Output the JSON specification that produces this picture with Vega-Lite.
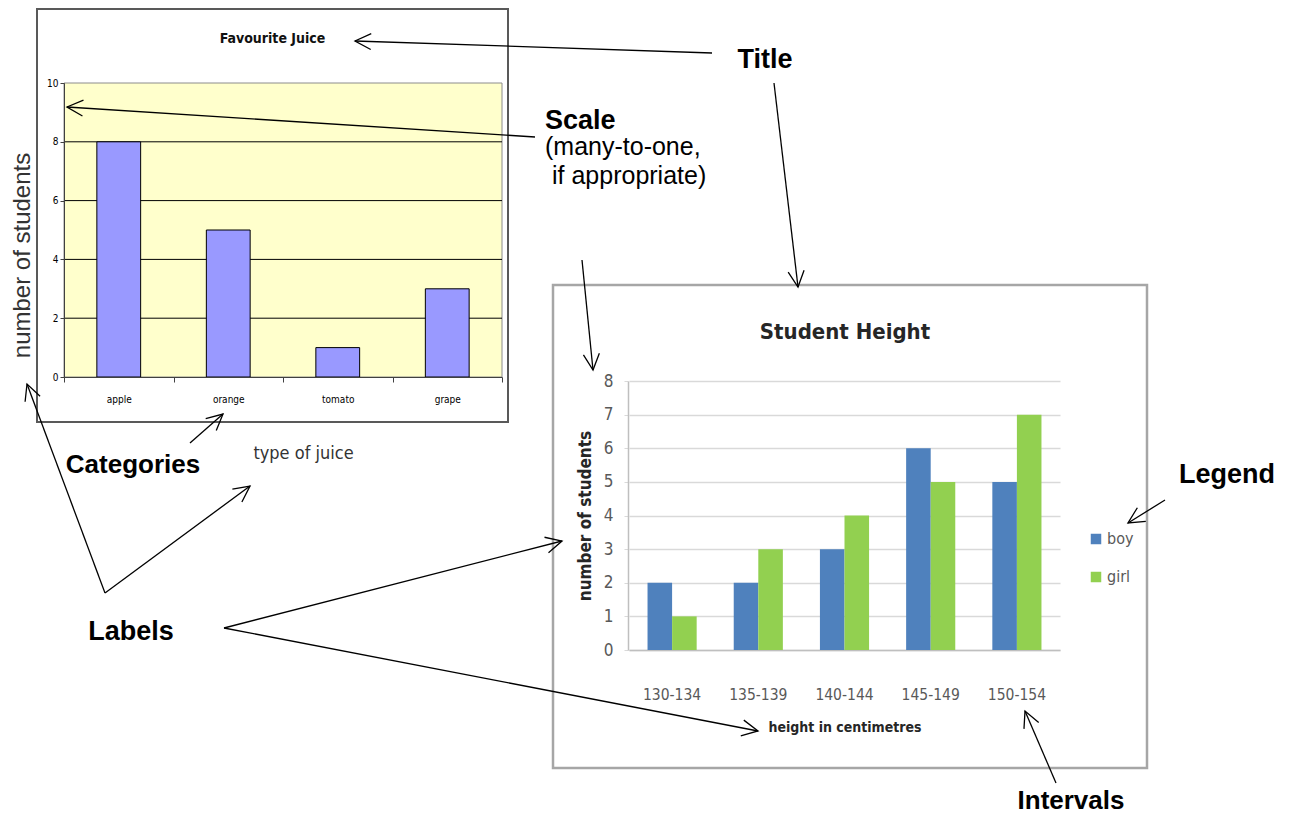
{
  "$schema": "https://vega.github.io/schema/vega-lite/v6.json",
  "width": 1289,
  "height": 817,
  "padding": 0,
  "autosize": {"type": "none"},
  "background": "white",
  "config": {"view": {"stroke": null}, "font": "Liberation Sans"},
  "datasets": {
    "juice": [
      {"juice": "apple", "students": 8},
      {"juice": "orange", "students": 5},
      {"juice": "tomato", "students": 1},
      {"juice": "grape", "students": 3}
    ],
    "leftGrid": [{"v": 2}, {"v": 4}, {"v": 6}, {"v": 8}],
    "heights": [
      {"range": "130-134", "gender": "boy", "students": 2},
      {"range": "130-134", "gender": "girl", "students": 1},
      {"range": "135-139", "gender": "boy", "students": 2},
      {"range": "135-139", "gender": "girl", "students": 3},
      {"range": "140-144", "gender": "boy", "students": 3},
      {"range": "140-144", "gender": "girl", "students": 4},
      {"range": "145-149", "gender": "boy", "students": 6},
      {"range": "145-149", "gender": "girl", "students": 5},
      {"range": "150-154", "gender": "boy", "students": 5},
      {"range": "150-154", "gender": "girl", "students": 7}
    ],
    "leftFrame": [{"x1": 37, "y1": 9, "x2": 508, "y2": 422}],
    "rightFrame": [{"x1": 553, "y1": 285, "x2": 1147, "y2": 768}],
    "arrows": [
      {"x1": 712, "y1": 53, "x2": 355, "y2": 41},
      {"x1": 774, "y1": 83, "x2": 798, "y2": 287},
      {"x1": 535, "y1": 137, "x2": 67, "y2": 107},
      {"x1": 582, "y1": 260, "x2": 593, "y2": 370},
      {"x1": 190, "y1": 443, "x2": 223, "y2": 414},
      {"x1": 105, "y1": 593, "x2": 27, "y2": 384},
      {"x1": 105, "y1": 593, "x2": 250, "y2": 486},
      {"x1": 224, "y1": 628, "x2": 562, "y2": 541},
      {"x1": 224, "y1": 628, "x2": 758, "y2": 731},
      {"x1": 1165, "y1": 500, "x2": 1128, "y2": 523},
      {"x1": 1056, "y1": 783, "x2": 1025, "y2": 711}
    ],
    "notesBig": [
      {"label": "Title", "px": 765, "py": 68},
      {"label": "Labels", "px": 131, "py": 640},
      {"label": "Legend", "px": 1227, "py": 483}
    ],
    "notesMid": [
      {"label": "Categories", "px": 133, "py": 473},
      {"label": "Intervals", "px": 1071, "py": 809}
    ],
    "notesScale": [{"label": "Scale", "px": 545, "py": 129}],
    "notesPlain": [
      {"label": "(many-to-one,", "px": 545, "py": 155},
      {"label": "if appropriate)", "px": 552, "py": 184}
    ]
  },
  "layer": [
    {
      "layer": [
        {
          "data": {"name": "leftFrame"},
          "mark": {"type": "rect", "filled": false, "stroke": "#595959", "strokeWidth": 2},
          "encoding": {
            "x": {"field": "x1", "type": "quantitative", "scale": {"domain": [0, 1289], "range": [0, 1289], "nice": false, "zero": false}, "axis": null},
            "x2": {"field": "x2"},
            "y": {"field": "y1", "type": "quantitative", "scale": {"domain": [0, 817], "range": [0, 817], "nice": false, "zero": false}, "axis": null},
            "y2": {"field": "y2"}
          }
        },
        {
          "data": {"name": "rightFrame"},
          "mark": {"type": "rect", "filled": false, "stroke": "#a6a6a6", "strokeWidth": 2.5},
          "encoding": {
            "x": {"field": "x1", "type": "quantitative", "axis": null},
            "x2": {"field": "x2"},
            "y": {"field": "y1", "type": "quantitative", "axis": null},
            "y2": {"field": "y2"}
          }
        }
      ]
    },
    {
      "layer": [
        {
          "layer": [
            {
              "data": {"values": [{"panel": "plot"}]},
              "mark": {"type": "rect", "fill": "#FFFFCC", "stroke": "#8c8c8c", "strokeWidth": 1},
              "encoding": {
                "x": {"datum": 0, "type": "quantitative", "scale": {"domain": [0, 1], "range": [64, 502], "nice": false, "zero": false},
                  "axis": {"orient": "top", "offset": -83, "domain": false, "ticks": false, "labels": false, "grid": false,
                    "title": "Favourite Juice", "titleFont": "DejaVu Sans Condensed, Liberation Sans Narrow, sans-serif",
                    "titleFontSize": 14, "titleFontWeight": "bold", "titleColor": "#111111", "titlePadding": 38, "titleX": 272}},
                "x2": {"datum": 1},
                "y": {"datum": 0, "type": "quantitative", "scale": {"domain": [0, 10], "range": [377, 83], "nice": false, "zero": true}, "axis": null},
                "y2": {"datum": 10}
              }
            },
            {
              "data": {"name": "leftGrid"},
              "mark": {"type": "rule", "color": "#000000", "strokeWidth": 1},
              "encoding": {
                "x": {"datum": 0, "type": "quantitative", "axis": null},
                "x2": {"datum": 1},
                "y": {"field": "v", "type": "quantitative", "axis": null}
              }
            }
          ],
          "resolve": {"axis": {"x": "independent", "y": "independent"}}
        },
        {
          "data": {"name": "juice"},
          "mark": {"type": "bar", "width": {"band": 0.4}, "color": "#9999FF", "stroke": "#000000", "strokeWidth": 1},
          "encoding": {
            "x": {"field": "juice", "type": "nominal", "sort": null,
              "scale": {"range": [64, 502], "paddingInner": 0, "paddingOuter": 0},
              "axis": {"orient": "bottom", "offset": -440, "labelAngle": 0, "tickBand": "extent", "tickSize": 5,
                "tickColor": "#404040", "domainColor": "#404040", "grid": false,
                "labelFont": "DejaVu Sans Condensed, Liberation Sans Narrow, sans-serif", "labelFontSize": 10,
                "labelColor": "#000000", "labelPadding": 12,
                "title": "type of juice", "titleFont": "DejaVu Sans Condensed, Liberation Sans Narrow, sans-serif",
                "titleFontSize": 18, "titleFontWeight": "normal", "titleColor": "#333333", "titlePadding": 40, "titleX": 303, "zindex": 1}},
            "y": {"field": "students", "type": "quantitative",
              "axis": {"orient": "left", "offset": -64, "values": [0, 2, 4, 6, 8, 10], "grid": false, "tickSize": 4,
                "tickColor": "#404040", "domainColor": "#404040", "labelPadding": 2,
                "labelFont": "DejaVu Sans Condensed, Liberation Sans Narrow, sans-serif", "labelFontSize": 10,
                "labelColor": "#000000",
                "title": "number of students", "titleFont": "Liberation Sans", "titleFontSize": 24, "titleFontWeight": "normal",
                "titleColor": "#333333", "titlePadding": 12, "titleY": 255, "zindex": 1}}
          }
        }
      ],
      "resolve": {"scale": {"x": "independent"}, "axis": {"x": "independent", "y": "independent"}}
    },
    {
      "data": {"name": "heights"},
      "layer": [
        {
          "mark": {"type": "bar"},
          "encoding": {
            "x": {"field": "range", "type": "nominal", "sort": null,
              "scale": {"range": [629, 1060], "paddingInner": 0.43, "paddingOuter": 0.215},
              "axis": {"orient": "bottom", "offset": -167, "labelAngle": 0, "ticks": false, "grid": false,
                "domainColor": "#bfbfbf", "domainWidth": 1.5,
                "labelFont": "DejaVu Sans Condensed, Liberation Sans Narrow, sans-serif", "labelFontSize": 15.5,
                "labelColor": "#595959", "labelPadding": 37,
                "title": "height in centimetres", "titleFont": "DejaVu Sans Condensed, Liberation Sans Narrow, sans-serif",
                "titleFontSize": 14, "titleFontWeight": "bold", "titleColor": "#262626", "titlePadding": 18}},
            "xOffset": {"field": "gender", "type": "nominal", "sort": ["boy", "girl"], "scale": {"paddingInner": 0, "paddingOuter": 0}},
            "y": {"field": "students", "type": "quantitative",
              "scale": {"domain": [0, 8], "range": [650, 381], "nice": false, "zero": true},
              "axis": {"orient": "left", "offset": -628, "values": [0, 1, 2, 3, 4, 5, 6, 7, 8], "grid": true,
                "gridColor": "#d9d9d9", "gridWidth": 1.5, "tickSize": 4, "tickColor": "#d9d9d9", "domainColor": "#bfbfbf",
                "domainWidth": 1.5,
                "labelFont": "DejaVu Sans Condensed, Liberation Sans Narrow, sans-serif", "labelFontSize": 17,
                "labelColor": "#595959", "labelPadding": 11,
                "title": "number of students", "titleFont": "DejaVu Sans Condensed, Liberation Sans Narrow, sans-serif",
                "titleFontSize": 17, "titleFontWeight": "bold", "titleColor": "#262626", "titlePadding": 9}},
            "color": {"field": "gender", "type": "nominal",
              "scale": {"domain": ["boy", "girl"], "range": ["#4F81BD", "#92D050"]},
              "legend": {"orient": "none", "legendX": 1088, "legendY": 531, "title": null, "symbolType": "square",
                "symbolSize": 110, "symbolStrokeWidth": 0,
                "labelFont": "DejaVu Sans Condensed, Liberation Sans Narrow, sans-serif", "labelFontSize": 16,
                "labelColor": "#595959", "rowPadding": 22, "labelOffset": 3}}
          }
        },
        {
          "mark": {"type": "bar", "opacity": 0},
          "encoding": {
            "x": {"field": "range", "type": "nominal", "sort": null,
              "axis": {"orient": "top", "offset": -381, "domain": false, "ticks": false, "labels": false, "grid": false,
                "title": "Student Height", "titleFont": "DejaVu Sans Condensed, Liberation Sans Narrow, sans-serif",
                "titleFontSize": 22, "titleFontWeight": "bold", "titleColor": "#262626", "titlePadding": 38}},
            "xOffset": {"field": "gender", "type": "nominal", "sort": ["boy", "girl"]},
            "y": {"field": "students", "type": "quantitative", "axis": null}
          }
        }
      ],
      "resolve": {"axis": {"x": "independent", "y": "independent"}}
    },
    {
      "layer": [
        {
          "data": {"name": "arrows"},
          "mark": {"type": "rule", "color": "#000000", "strokeWidth": 1.3},
          "encoding": {
            "x": {"field": "x1", "type": "quantitative", "scale": {"domain": [0, 1289], "range": [0, 1289], "nice": false, "zero": false}, "axis": null},
            "y": {"field": "y1", "type": "quantitative", "scale": {"domain": [0, 817], "range": [0, 817], "nice": false, "zero": false}, "axis": null},
            "x2": {"field": "x2"},
            "y2": {"field": "y2"}
          }
        },
        {
          "data": {"name": "arrows"},
          "transform": [{"calculate": "atan2(datum.y2 - datum.y1, datum.x2 - datum.x1) * 180 / PI", "as": "ang"}],
          "mark": {"type": "point", "shape": "M -1 -0.5 L 0 0 L -1 0.5", "filled": false, "stroke": "#000000",
            "strokeWidth": 1.3, "opacity": 1, "size": 1024},
          "encoding": {
            "x": {"field": "x2", "type": "quantitative", "axis": null},
            "y": {"field": "y2", "type": "quantitative", "axis": null},
            "angle": {"field": "ang", "type": "quantitative", "scale": null}
          }
        },
        {
          "data": {"name": "notesBig"},
          "mark": {"type": "text", "font": "Liberation Sans", "fontWeight": "bold", "fontSize": 27, "align": "center",
            "baseline": "alphabetic", "color": "#000000"},
          "encoding": {
            "x": {"field": "px", "type": "quantitative", "axis": null},
            "y": {"field": "py", "type": "quantitative", "axis": null},
            "text": {"field": "label"}
          }
        },
        {
          "data": {"name": "notesMid"},
          "mark": {"type": "text", "font": "Liberation Sans", "fontWeight": "bold", "fontSize": 26, "align": "center",
            "baseline": "alphabetic", "color": "#000000"},
          "encoding": {
            "x": {"field": "px", "type": "quantitative", "axis": null},
            "y": {"field": "py", "type": "quantitative", "axis": null},
            "text": {"field": "label"}
          }
        },
        {
          "data": {"name": "notesScale"},
          "mark": {"type": "text", "font": "Liberation Sans", "fontWeight": "bold", "fontSize": 27, "align": "left",
            "baseline": "alphabetic", "color": "#000000"},
          "encoding": {
            "x": {"field": "px", "type": "quantitative", "axis": null},
            "y": {"field": "py", "type": "quantitative", "axis": null},
            "text": {"field": "label"}
          }
        },
        {
          "data": {"name": "notesPlain"},
          "mark": {"type": "text", "font": "Liberation Sans", "fontWeight": "normal", "fontSize": 25, "align": "left",
            "baseline": "alphabetic", "color": "#000000"},
          "encoding": {
            "x": {"field": "px", "type": "quantitative", "axis": null},
            "y": {"field": "py", "type": "quantitative", "axis": null},
            "text": {"field": "label"}
          }
        }
      ]
    }
  ],
  "resolve": {"scale": {"x": "independent", "y": "independent", "color": "independent"}, "axis": {"x": "independent", "y": "independent"}}
}
